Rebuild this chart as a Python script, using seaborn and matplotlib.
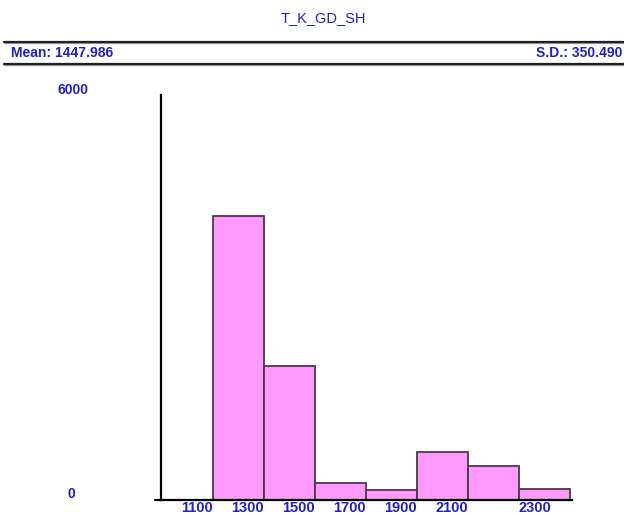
import numpy as np
import pandas as pd
import matplotlib
matplotlib.use("Agg")
import matplotlib.pyplot as plt
from matplotlib.lines import Line2D
import seaborn as sns

bin_edges = [1100, 1300, 1500, 1700, 1900, 2100, 2300, 2500]
bin_centers = [1200, 1400, 1600, 1800, 2000, 2200, 2400]
counts = [4207, 1985, 256, 148, 715, 508, 163]
tick_values = [1100, 1300, 1500, 1700, 1900, 2100, 2300]
tick_labels = ["1100", "1300", "1500", "1700", "1900", "2100", "2300"]
title = "T_K_GD_SH"
mean_text = "Mean: 1447.986"
sd_text = "S.D.: 350.490"

sns.set_style("white")
plt.rcParams['font.family'] = ['Liberation Sans', 'DejaVu Sans']

BLUE = "#2020c8"
W, H = 624, 515

def fx(px):
    return px / W

def fy(py):
    return 1 - py / H

fig = plt.figure(figsize=(W / 100, H / 100), dpi=100)

# Cabecera
fig.text(fx(323), fy(18), title, color=BLUE, fontsize=10.5, ha='center', va='center')
for yy in (42, 64):
    fig.add_artist(Line2D([fx(4), fx(624)], [fy(yy + 1.2), fy(yy + 1.2)], color='#a0a0a0', lw=1.0))
    fig.add_artist(Line2D([fx(4), fx(624)], [fy(yy), fy(yy)], color='#202020', lw=1.6))
fig.text(fx(11), fy(53), mean_text, color=BLUE, fontsize=10, fontweight='bold', ha='left', va='center')
fig.text(fx(622), fy(53), sd_text, color=BLUE, fontsize=10, fontweight='bold', ha='right', va='center')

# Ejes
ax = fig.add_axes([fx(161), fy(500), fx(572) - fx(161), (500 - 95) / H])
df = pd.DataFrame({'x': bin_centers, 'w': counts})
sns.histplot(data=df, x='x', weights='w', bins=bin_edges, ax=ax,
             color='#ff99ff', alpha=1.0, edgecolor='#404040', linewidth=1.3)

scale = (570 - 213) / 1400
ax.set_xlim(1100 - (213 - 161) / scale, 2500 + (572 - 570) / scale)
ax.set_ylim(0, 6000)
ax.set_xlabel('')
ax.set_ylabel('')

for side in ('top', 'right'):
    ax.spines[side].set_visible(False)
for side in ('left', 'bottom'):
    ax.spines[side].set_linewidth(1.6)
    ax.spines[side].set_color('black')

ax.set_yticks([3000, 6000])
ax.set_yticklabels([])
ax.tick_params(axis='y', direction='out', length=5.5, width=1.4, color='black')

ax.set_xticks(tick_values)
ax.set_xticklabels(tick_labels, color=BLUE, fontsize=10.5, fontweight='bold')
ax.tick_params(axis='x', direction='out', length=3, width=1.4, color='black', pad=-2.5)
labels = ax.get_xticklabels()
for lab in labels[:-1]:
    lab.set_ha('right')
labels[-1].set_ha('left')

# Extension del eje x a la izquierda
fig.add_artist(Line2D([fx(155), fx(161)], [fy(500), fy(500)], color='black', lw=1.6))

fig.text(fx(73), fy(90), "6000", color=BLUE, fontsize=10, fontweight='bold', ha='center', va='center')
fig.text(fx(71.5), fy(494), "0", color=BLUE, fontsize=10, fontweight='bold', ha='center', va='center')

fig.savefig("out.png", dpi=100)
